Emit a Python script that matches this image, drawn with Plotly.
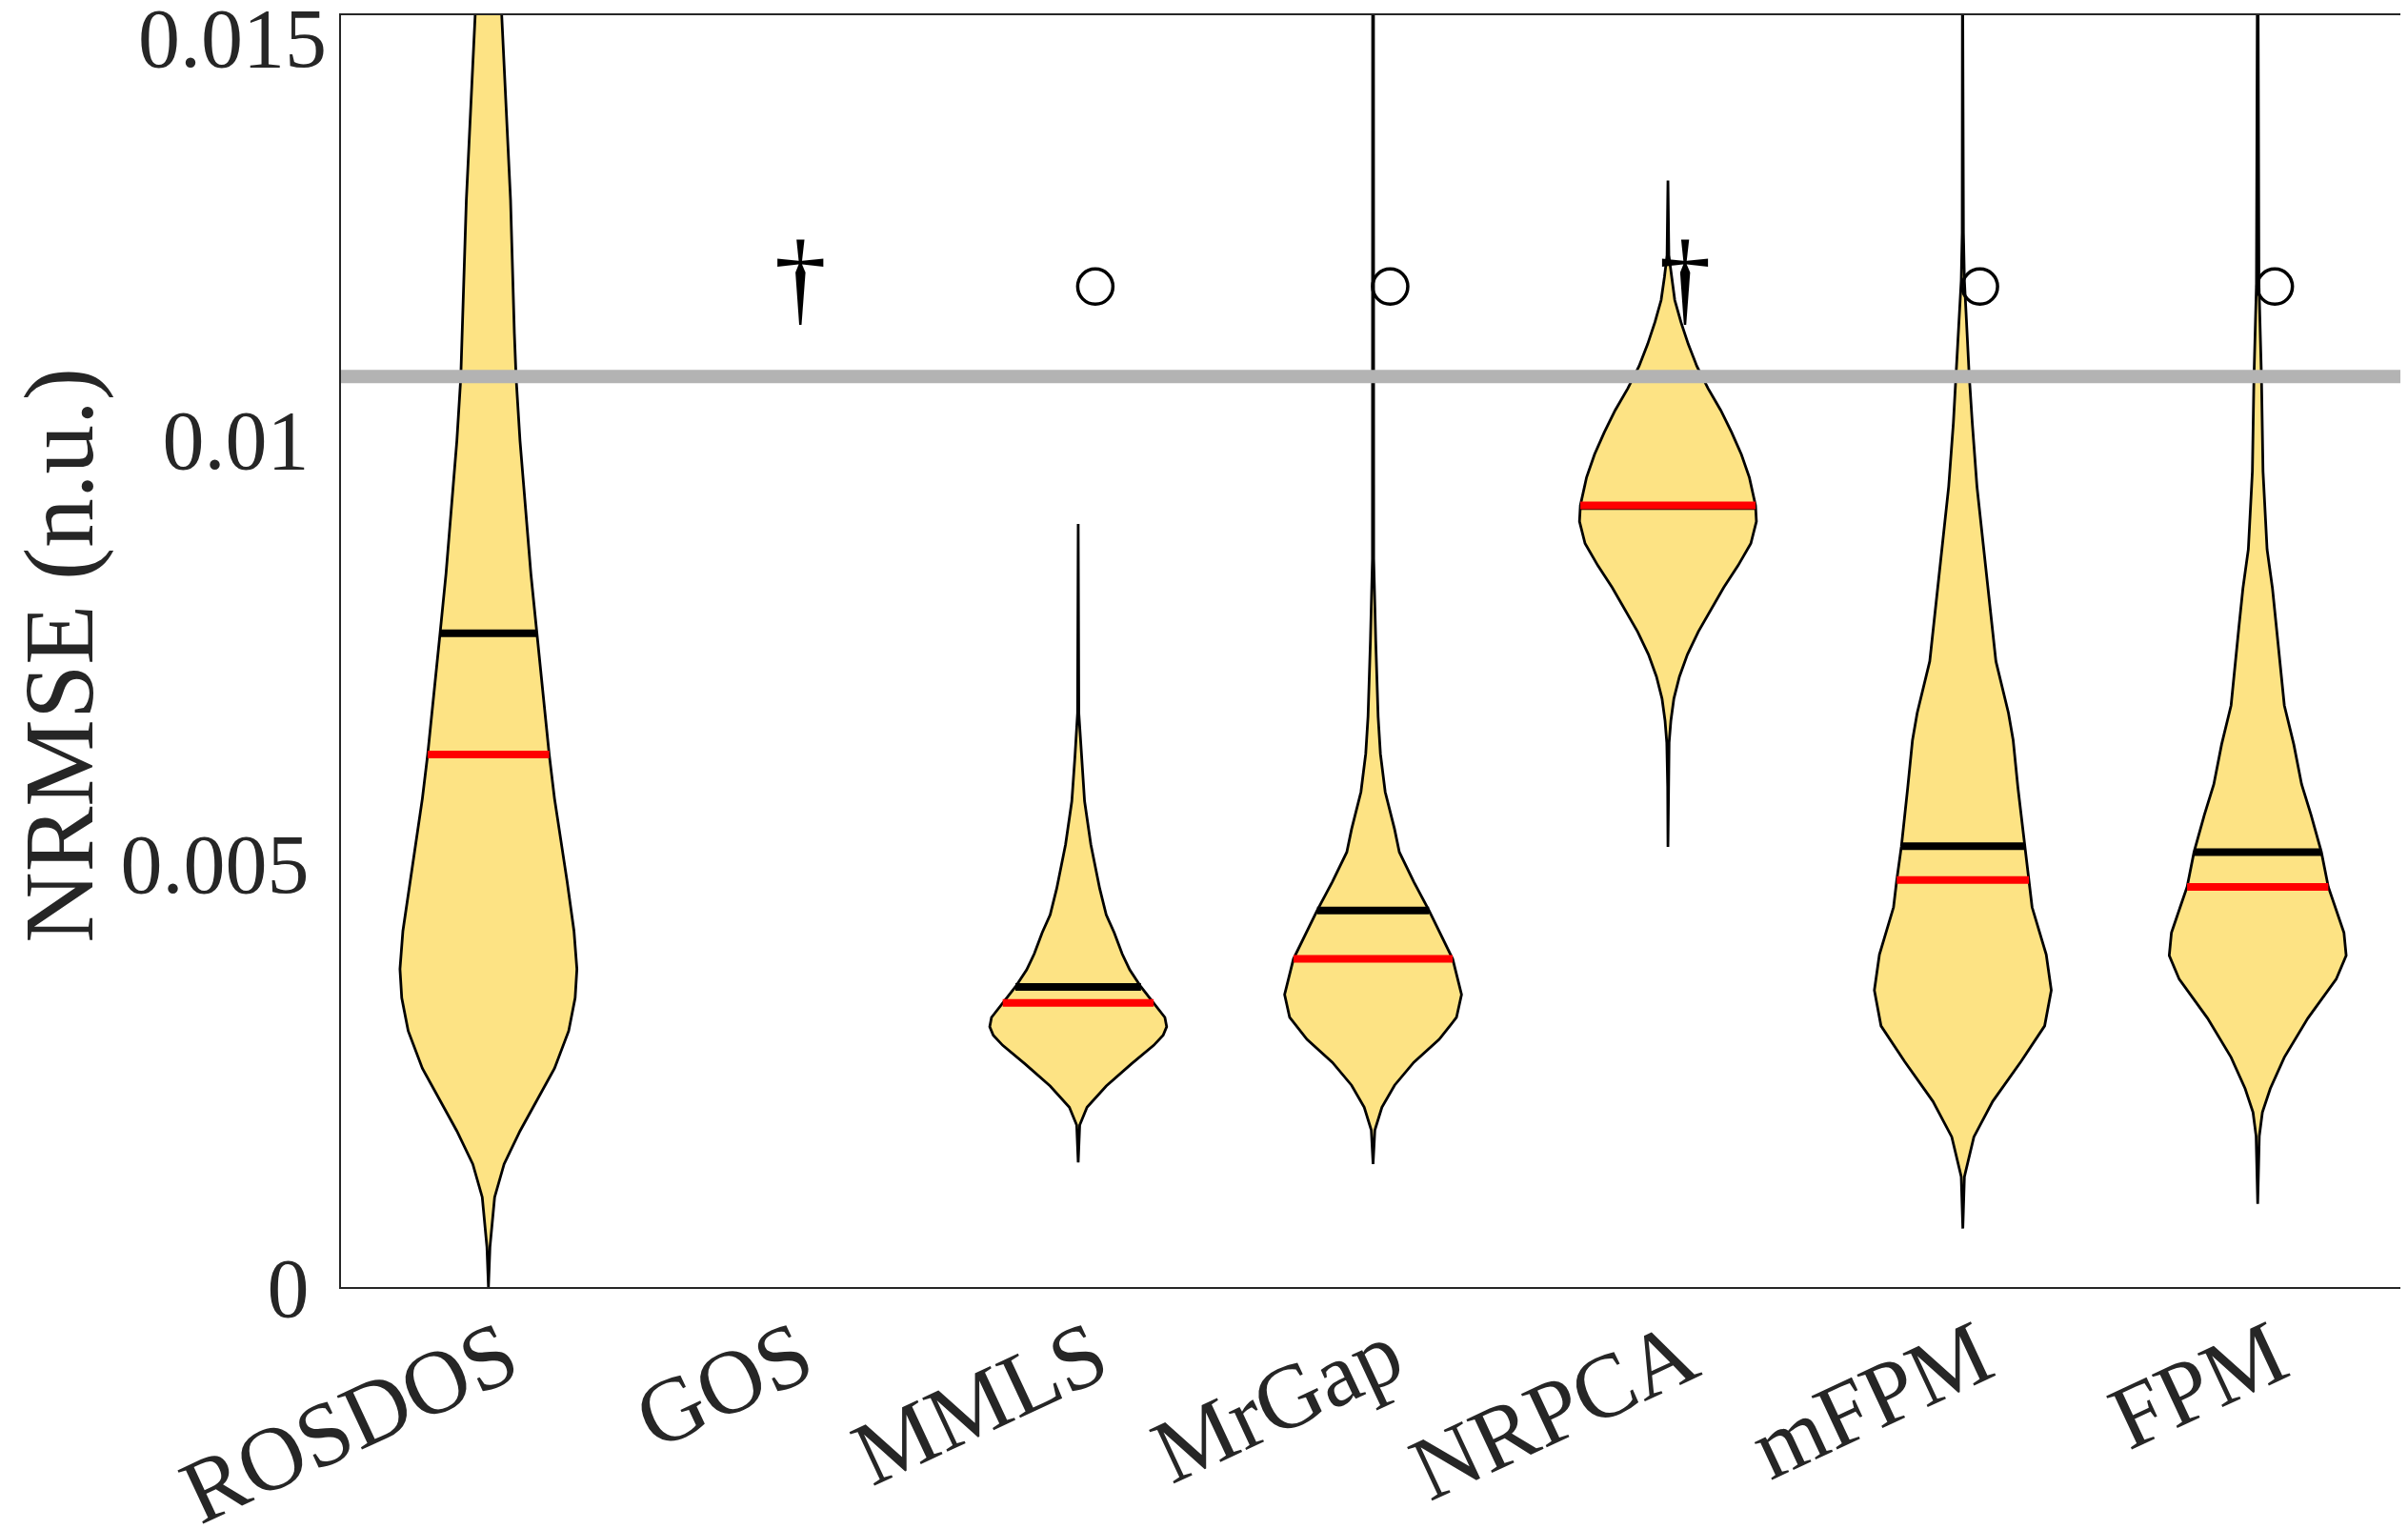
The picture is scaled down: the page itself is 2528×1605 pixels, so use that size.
import numpy as np
import plotly.graph_objects as go

# ── data ────────────────────────────────────────────────────────────────────
METHODS = ["ROSDOS", "GOS", "MMLS", "MrGap", "NRPCA", "mFPM", "FPM"]

# violin outlines: NRMSE levels and relative density (1 = widest point)
ROSDOS_LEVELS = [0.0, 0.00047, 0.00106, 0.00145, 0.00184, 0.00258, 0.00302, 0.00341,
                 0.00375, 0.00420, 0.00478, 0.00576, 0.00628, 0.00771, 0.00841,
                 0.00998, 0.01072, 0.01125, 0.01282, 0.0150, 0.0165]
ROSDOS_DENS = [0.0, 0.017, 0.07, 0.177, 0.357, 0.747, 0.907, 0.98, 1.0, 0.967, 0.89,
               0.747, 0.687, 0.547, 0.48, 0.357, 0.313, 0.293, 0.25, 0.15, 0.10]

MMLS_LEVELS = [0.00147, 0.00191, 0.00212, 0.00237, 0.00263, 0.00285, 0.00297, 0.00307,
               0.00318, 0.00328, 0.00335, 0.00354, 0.00374, 0.00393, 0.00418, 0.00439,
               0.00470, 0.00522, 0.00573, 0.00625, 0.00677, 0.0090]
MMLS_DENS = [0.0, 0.017, 0.1, 0.317, 0.6, 0.853, 0.96, 1.0, 0.98, 0.907, 0.853, 0.71,
             0.583, 0.497, 0.407, 0.317, 0.243, 0.143, 0.072, 0.037, 0.007, 0.0]

MRGAP_LEVELS = [0.00145, 0.00185, 0.00212, 0.00238, 0.00265, 0.00292, 0.00318, 0.00345,
                0.00387, 0.00444, 0.00478, 0.00513, 0.00540, 0.00584, 0.00629, 0.00673,
                0.00762, 0.00859, 0.0150, 0.0165]
MRGAP_DENS = [0.0, 0.02, 0.1, 0.243, 0.46, 0.747, 0.943, 1.0, 0.9, 0.633, 0.46, 0.297,
              0.243, 0.137, 0.083, 0.057, 0.03, 0.007, 0.005, 0.005]

NRPCA_LEVELS = [0.00519, 0.0059, 0.00642, 0.00668, 0.00694, 0.00720, 0.00746, 0.00773,
                0.00799, 0.00825, 0.00851, 0.00877, 0.00903, 0.00922, 0.00955, 0.00982,
                0.01008, 0.01034, 0.01060, 0.01086, 0.01112, 0.01138, 0.01164, 0.01191,
                0.01217, 0.01305]
NRPCA_DENS = [0.0, 0.003, 0.013, 0.033, 0.067, 0.13, 0.22, 0.343, 0.487, 0.63, 0.793,
              0.937, 1.0, 0.99, 0.92, 0.83, 0.72, 0.597, 0.453, 0.327, 0.23, 0.147,
              0.077, 0.04, 0.01, 0.0]

MFPM_LEVELS = [0.00069, 0.00130, 0.00177, 0.00219, 0.00266, 0.00308, 0.00350, 0.00392,
               0.00448, 0.00480, 0.00520, 0.00589, 0.00645, 0.00677, 0.00738, 0.00822,
               0.00944, 0.01019, 0.01077, 0.01150, 0.01187, 0.01243, 0.0150, 0.0165]
MFPM_DENS = [0.0, 0.018, 0.125, 0.338, 0.658, 0.925, 1.0, 0.943, 0.783, 0.747, 0.694,
             0.623, 0.569, 0.516, 0.374, 0.285, 0.16, 0.107, 0.071, 0.036, 0.018, 0.007,
             0.005, 0.005]

FPM_LEVELS = [0.00098, 0.00178, 0.00206, 0.00234, 0.00271, 0.00317, 0.00363, 0.00391,
              0.00418, 0.00472, 0.00513, 0.00557, 0.00593, 0.00640, 0.00686, 0.00732,
              0.00778, 0.00824, 0.00870, 0.00962, 0.01070, 0.01184, 0.0150, 0.0165]
FPM_DENS = [0.0, 0.018, 0.053, 0.142, 0.301, 0.567, 0.887, 1.0, 0.975, 0.798, 0.72,
            0.603, 0.496, 0.408, 0.301, 0.259, 0.213, 0.167, 0.106, 0.06, 0.043, 0.014,
            0.005, 0.005]

# mean (black) and median (red) per method, None where no violin
MEANS = [0.00771, None, 0.00354, 0.00444, 0.00921, 0.00520, 0.00513]
MEDIANS = [0.00628, None, 0.00335, 0.00387, 0.00922, 0.00480, 0.00472]

THRESHOLD = 0.01074
SIG_LEVEL = 0.0118
SIG_MARK = ["", "dagger", "circle", "circle", "dagger", "circle", "circle"]

Y_TICKS = [0, 0.005, 0.01, 0.015]
Y_TICK_TEXT = ["0", "0.005", "0.01", "0.015"]

PROFILES = {
    "ROSDOS": (ROSDOS_LEVELS, ROSDOS_DENS),
    "MMLS": (MMLS_LEVELS, MMLS_DENS),
    "MrGap": (MRGAP_LEVELS, MRGAP_DENS),
    "NRPCA": (NRPCA_LEVELS, NRPCA_DENS),
    "mFPM": (MFPM_LEVELS, MFPM_DENS),
    "FPM": (FPM_LEVELS, FPM_DENS),
}

# ── style ───────────────────────────────────────────────────────────────────
HALF_WIDTH = 0.3
FILL = "#FDE384"
TEXT = "#262626"
FONT = "Liberation Serif, Times New Roman, serif"
MARK_DX = 0.058

fig = go.Figure()

for i, name in enumerate(METHODS):
    xc = i + 1
    if name not in PROFILES:
        continue
    lv, dens = PROFILES[name]
    lv = np.asarray(lv)
    w = np.asarray(dens) * HALF_WIDTH
    xs = np.concatenate([xc + w, (xc - w)[::-1]])
    ys = np.concatenate([lv, lv[::-1]])
    fig.add_trace(go.Scatter(
        x=xs, y=ys, mode="lines", fill="toself", fillcolor=FILL,
        line=dict(color="black", width=2.8), hoverinfo="skip",
    ))
    for stat, col in ((MEANS[i], "black"), (MEDIANS[i], "red")):
        hw = np.interp(stat, lv, w)
        fig.add_trace(go.Scatter(
            x=[xc - hw, xc + hw], y=[stat, stat], mode="lines",
            line=dict(color=col, width=8), hoverinfo="skip",
        ))

fig.add_hline(y=THRESHOLD, line=dict(color="#B3B3B3", width=14))

circ_x = [i + 1 + MARK_DX for i, m in enumerate(SIG_MARK) if m == "circle"]
dag_x = [i + 1 + MARK_DX for i, m in enumerate(SIG_MARK) if m == "dagger"]
fig.add_trace(go.Scatter(
    x=circ_x, y=[SIG_LEVEL] * len(circ_x), mode="markers",
    marker=dict(symbol="circle-open", size=37, color="black", line=dict(width=3.5)),
))
fig.add_trace(go.Scatter(
    x=dag_x, y=[SIG_LEVEL] * len(dag_x), mode="text", text=["†"] * len(dag_x),
    textposition="middle center", textfont=dict(family=FONT, size=110, color="black"),
))

# the page body adds an 8 px offset, margins are trimmed to compensate
fig.update_layout(
    width=2528, height=1605,
    margin=dict(l=350, r=11, t=8, b=262),
    paper_bgcolor="white", plot_bgcolor="white",
    showlegend=False,
    font=dict(family=FONT, color=TEXT),
    xaxis=dict(
        range=[0.5, 7.5], tickvals=list(range(1, len(METHODS) + 1)), ticktext=METHODS,
        tickangle=-25, tickfont=dict(size=95, color=TEXT), ticks="",
        ticklabelstandoff=-20, ticklabelshift=17, automargin=False,
        showline=True, mirror=True, linecolor=TEXT, linewidth=2,
        showgrid=False, zeroline=False,
    ),
    yaxis=dict(
        range=[0, 0.015], tickvals=Y_TICKS[:-1], ticktext=Y_TICK_TEXT[:-1],
        tickfont=dict(size=88, color=TEXT), ticks="", ticklabelstandoff=14,
        automargin=False,
        showline=True, mirror=True, linecolor=TEXT, linewidth=2,
        showgrid=False, zeroline=False,
    ),
    annotations=[
        dict(
            text="NRMSE (n.u.)", xref="paper", yref="paper", x=-0.1365, y=0.497,
            xanchor="center", yanchor="middle", textangle=-90, showarrow=False,
            font=dict(family=FONT, size=103, color=TEXT),
        ),
        # top tick label sits lower in the original so it stays inside the figure
        dict(
            text=Y_TICK_TEXT[-1], xref="paper", yref="y", x=0, y=Y_TICKS[-1],
            xanchor="right", yanchor="middle", xshift=-13, yshift=-24,
            showarrow=False, font=dict(family=FONT, size=88, color=TEXT),
        ),
    ],
)

fig.write_html("out.html")
